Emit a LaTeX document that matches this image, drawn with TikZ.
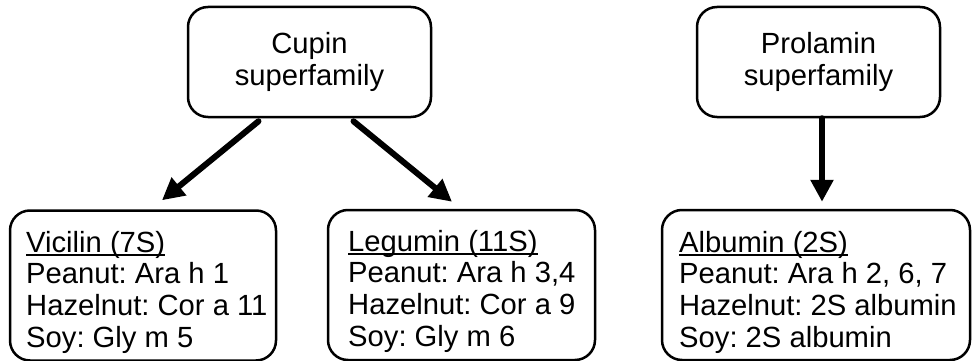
\documentclass[tikz,border=0pt]{standalone}
\usepackage{fontspec}
\setmainfont{Liberation Sans}
\usetikzlibrary{arrows.meta}
\frenchspacing
\newcommand\myul[1]{\setbox0\hbox{#1}\rlap{\rule[-3.6pt]{\wd0}{2pt}}\box0}
\begin{document}
\begin{tikzpicture}[x=1pt,y=-1pt,
  box/.style={draw, line width=2.5pt, rounded corners=20pt, inner sep=0pt},
  topbox/.style={box, minimum width=243pt, minimum height=110pt, align=center, font=\fontsize{29.2}{31.7}\selectfont},
  lowbox/.style={box, minimum width=#1, minimum height=150pt},
  txt/.style={anchor=north west, inner sep=0pt, align=left, font=\fontsize{29.2}{31.7}\selectfont},
  arr/.style={line width=6pt, line cap=round, -{Triangle[length=22pt,width=22pt]}}]
\useasboundingbox (0,0) rectangle (972,361);
\node[topbox] (cupin) at (309.5,62) {Cupin\\superfamily};
\node[topbox] (prol) at (818.5,62) {Prolamin\\superfamily};
\node[lowbox=266pt] (vic) at (143,285.5) {};
\node[lowbox=267pt] (leg) at (461.5,285) {};
\node[lowbox=308pt] (alb) at (816,285) {};
\node[txt] (victxt) at (26,230) {\rule{0pt}{22pt}\myul{Vicilin (7S)}\\Peanut: Ara h 1\\Hazelnut: Cor a 11\\Soy: Gly m 5};
\node[txt] (legtxt) at (348,229) {\rule{0pt}{22pt}\myul{Legumin (11S)}\\Peanut: Ara h 3,4\\Hazelnut: Cor a 9\\Soy: Gly m 6};
\node[txt] (albtxt) at (679,230) {\rule{0pt}{22pt}\myul{Albumin (2S)}\\Peanut: Ara h 2, 6, 7\\Hazelnut: 2S albumin\\Soy: 2S albumin};
\draw[arr] ([xshift=-51pt,yshift=-3pt]cupin.south) -- ([xshift=19pt,yshift=9pt]vic.north);
\draw[arr] ([xshift=44pt,yshift=-3pt]cupin.south) -- ([xshift=-9.5pt,yshift=7pt]leg.north);
\draw[arr] ([xshift=3.5pt]prol.south) -- ([xshift=6pt,yshift=7pt]alb.north);
\end{tikzpicture}
\end{document}
